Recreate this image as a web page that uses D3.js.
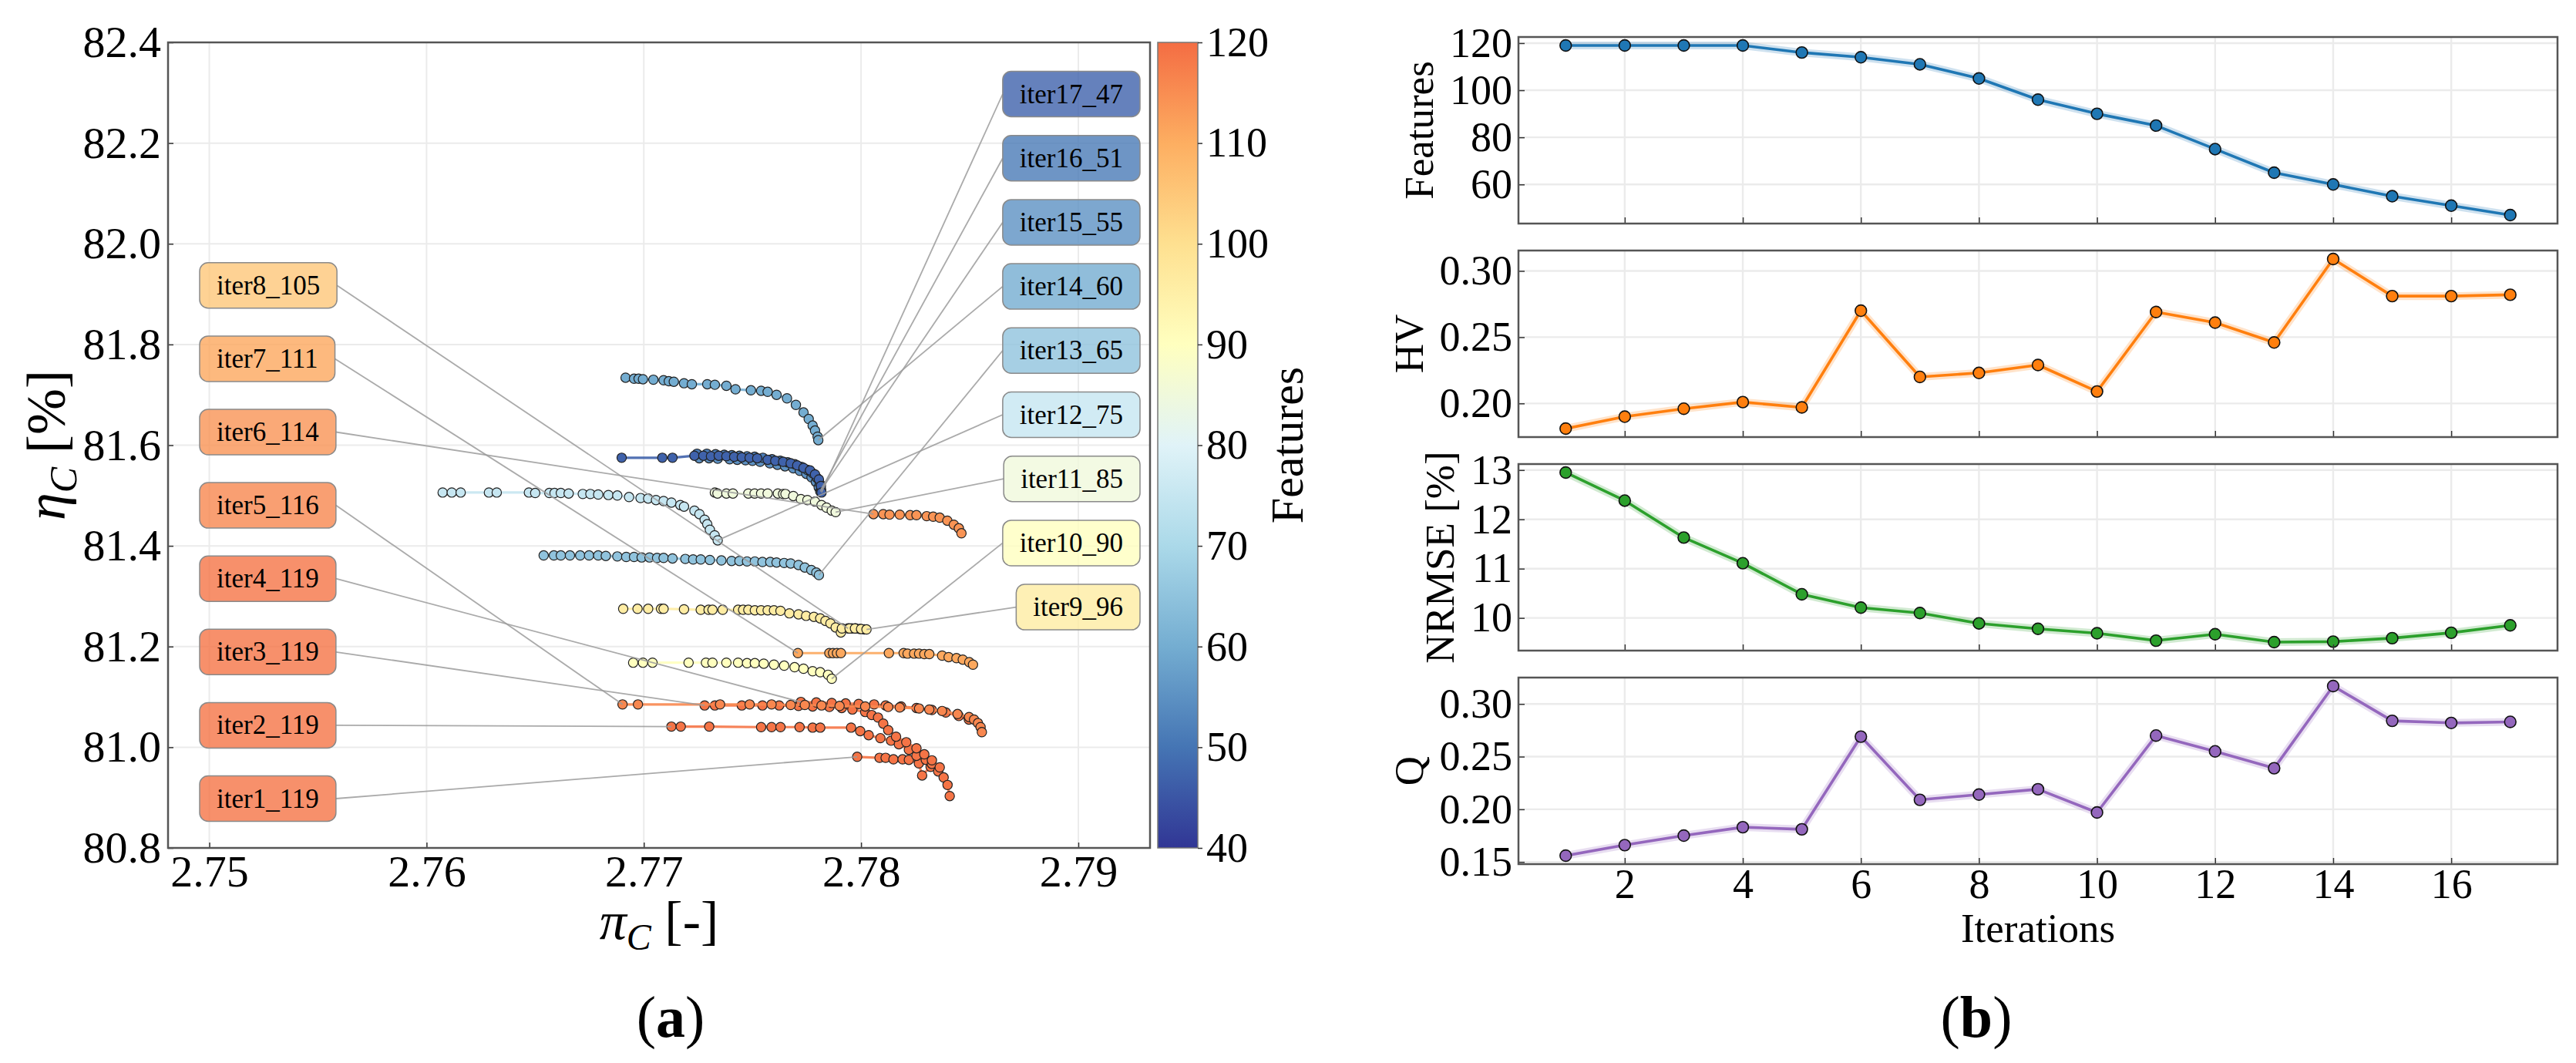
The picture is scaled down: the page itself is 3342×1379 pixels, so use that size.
<!DOCTYPE html>
<html>
<head>
<meta charset="utf-8">
<script src="https://cdn.jsdelivr.net/npm/d3@7"></script>
<style>
  body { margin: 0; background: #fff; }
  svg { display: block; font-family: 'Liberation Serif', 'Times New Roman', serif; }
</style>
</head>
<body>
<svg id="fig" width="3342" height="1379"></svg>
<script>
// ---- data: panel (b) ----
const iterations = [1, 2, 3, 4, 5, 6, 7, 8, 9, 10, 11, 12, 13, 14, 15, 16, 17];
const features = [119, 119, 119, 119, 116, 114, 111, 105, 96, 90, 85, 75, 65, 60, 55, 51, 47];
const hv = [0.181, 0.190, 0.196, 0.201, 0.197, 0.270, 0.220, 0.223, 0.229, 0.209, 0.269, 0.261, 0.246, 0.309, 0.281, 0.281, 0.282];
const nrmse = [12.95, 12.38, 11.63, 11.11, 10.48, 10.21, 10.10, 9.89, 9.78, 9.69, 9.54, 9.67, 9.51, 9.52, 9.59, 9.70, 9.85];
const qScore = [0.156, 0.166, 0.175, 0.183, 0.181, 0.269, 0.209, 0.214, 0.219, 0.197, 0.270, 0.255, 0.239, 0.317, 0.284, 0.282, 0.283];

// ---- data: panel (a), pareto fronts [pi_C, eta_C] ----
const front1 = [[2.77982,80.981],[2.78085,80.979],[2.78113,80.979],[2.78149,80.976],[2.78191,80.976],[2.7822,80.975],[2.78266,80.968],[2.78281,80.944],[2.7832,80.961],[2.78355,80.952],[2.7838,80.940],[2.78398,80.925],[2.78408,80.903]];
const front2 = [[2.77127,81.041],[2.7717,81.041],[2.77301,81.041],[2.7754,81.040],[2.77588,81.040],[2.77629,81.040],[2.77717,81.040],[2.77777,81.039],[2.77812,81.039],[2.77954,81.039],[2.77996,81.032],[2.78035,81.024],[2.78089,81.018],[2.78138,81.013],[2.78174,81.006],[2.7822,80.995],[2.78255,80.983],[2.78298,80.975],[2.78326,80.967]];
const front3 = [[2.7728,81.083],[2.77327,81.083],[2.77451,81.083],[2.77546,81.083],[2.77623,81.083],[2.77712,81.082],[2.77777,81.081],[2.77854,81.080],[2.77911,81.078],[2.7796,81.075],[2.78019,81.070],[2.78049,81.064],[2.78078,81.059],[2.78102,81.047],[2.78125,81.034],[2.78161,81.021],[2.78208,81.010],[2.78255,80.998],[2.78291,80.986],[2.78326,80.974],[2.78362,80.960]];
const front4 = [[2.77723,81.090],[2.77794,81.089],[2.77865,81.088],[2.77929,81.087],[2.77989,81.086],[2.7806,81.085],[2.78113,81.083],[2.78184,81.081],[2.78255,81.078],[2.78326,81.074],[2.7839,81.069],[2.7845,81.062],[2.78496,81.055]];
const front5 = [[2.76902,81.085],[2.76973,81.085],[2.77351,81.085],[2.77487,81.085],[2.77588,81.085],[2.77676,81.084],[2.77741,81.084],[2.77818,81.083],[2.77901,81.082],[2.78019,81.081],[2.78125,81.080],[2.78178,81.079],[2.78267,81.077],[2.78314,81.075],[2.78373,81.072],[2.78444,81.066],[2.78497,81.060],[2.7852,81.055],[2.78538,81.048],[2.7855,81.040],[2.78556,81.030]];
const front6 = [[2.78057,81.463],[2.78102,81.463],[2.78131,81.462],[2.78178,81.462],[2.78226,81.461],[2.78255,81.461],[2.78302,81.459],[2.78332,81.458],[2.78362,81.456],[2.78397,81.450],[2.78427,81.442],[2.7845,81.435],[2.78462,81.425]];
const front7 = [[2.77709,81.187],[2.77854,81.187],[2.77871,81.187],[2.77889,81.187],[2.77907,81.187],[2.78128,81.187],[2.78196,81.187],[2.78214,81.186],[2.78244,81.186],[2.78267,81.186],[2.78291,81.185],[2.78314,81.185],[2.78373,81.182],[2.78403,81.179],[2.78439,81.177],[2.78468,81.174],[2.78498,81.169],[2.78515,81.164]];
const front8 = [[2.7794,81.236],[2.77958,81.236],[2.77975,81.236],[2.77995,81.235],[2.78015,81.234]];
const front9 = [[2.76905,81.275],[2.76971,81.275],[2.7702,81.275],[2.77079,81.275],[2.77091,81.275],[2.77185,81.274],[2.77262,81.273],[2.77298,81.273],[2.77316,81.273],[2.77363,81.273],[2.77434,81.273],[2.77457,81.273],[2.77481,81.273],[2.77511,81.272],[2.7754,81.272],[2.7757,81.272],[2.77599,81.272],[2.77629,81.271],[2.7767,81.266],[2.77712,81.264],[2.77747,81.261],[2.77783,81.259],[2.77812,81.256],[2.77836,81.251],[2.77859,81.246],[2.77883,81.238],[2.77907,81.228],[2.77912,81.236],[2.77947,81.236],[2.77972,81.236],[2.78,81.235],[2.78025,81.234]];
const front10 = [[2.76951,81.168],[2.76996,81.168],[2.7704,81.168],[2.77206,81.168],[2.77286,81.168],[2.77316,81.168],[2.7738,81.168],[2.77434,81.168],[2.77475,81.167],[2.77511,81.167],[2.77552,81.166],[2.77599,81.164],[2.77646,81.162],[2.77694,81.159],[2.77735,81.156],[2.77777,81.151],[2.77812,81.149],[2.77848,81.144],[2.77865,81.136]];
const front11 = [[2.77327,81.506],[2.77339,81.504],[2.7738,81.504],[2.7741,81.504],[2.77481,81.504],[2.7751,81.504],[2.7754,81.504],[2.7757,81.504],[2.77617,81.504],[2.77641,81.503],[2.77652,81.503],[2.77688,81.499],[2.77723,81.493],[2.77753,81.491],[2.77788,81.488],[2.77818,81.481],[2.77841,81.476],[2.77865,81.470],[2.77883,81.467]];
const front12 = [[2.76074,81.506],[2.76116,81.506],[2.76157,81.506],[2.76287,81.506],[2.76323,81.506],[2.76471,81.506],[2.765,81.505],[2.76565,81.505],[2.76589,81.505],[2.76618,81.505],[2.76654,81.504],[2.76719,81.503],[2.76754,81.503],[2.7679,81.502],[2.76837,81.501],[2.76878,81.500],[2.76932,81.497],[2.76985,81.495],[2.7702,81.494],[2.77056,81.491],[2.77091,81.489],[2.77127,81.486],[2.77168,81.481],[2.77185,81.478],[2.77233,81.470],[2.77256,81.463],[2.7728,81.452],[2.77292,81.443],[2.77304,81.432],[2.77326,81.421],[2.7734,81.411]];
const front13 = [[2.76539,81.381],[2.76586,81.381],[2.76618,81.381],[2.7666,81.381],[2.76707,81.381],[2.76748,81.381],[2.7679,81.381],[2.76825,81.380],[2.76878,81.379],[2.76919,81.378],[2.76955,81.378],[2.7699,81.377],[2.77026,81.377],[2.77061,81.376],[2.77091,81.376],[2.77132,81.375],[2.77191,81.374],[2.77227,81.373],[2.77262,81.373],[2.77304,81.372],[2.77357,81.371],[2.77404,81.370],[2.7744,81.370],[2.77475,81.369],[2.77511,81.369],[2.77546,81.368],[2.77582,81.368],[2.77611,81.367],[2.77646,81.366],[2.77676,81.365],[2.77712,81.362],[2.77741,81.357],[2.77771,81.352],[2.77794,81.347],[2.77806,81.342]];
const front14 = [[2.76916,81.734],[2.76955,81.732],[2.76976,81.732],[2.76996,81.731],[2.77044,81.730],[2.77091,81.729],[2.77115,81.727],[2.77138,81.726],[2.77185,81.723],[2.77221,81.721],[2.77292,81.721],[2.77327,81.720],[2.7738,81.718],[2.77422,81.711],[2.77493,81.709],[2.7754,81.708],[2.7757,81.706],[2.77611,81.700],[2.77659,81.693],[2.777,81.680],[2.77735,81.665],[2.77759,81.652],[2.77777,81.639],[2.77788,81.629],[2.778,81.617],[2.77803,81.610]];
const front15 = [[2.77255,81.574],[2.773,81.574],[2.7734,81.573],[2.77395,81.572],[2.7743,81.571],[2.77468,81.570],[2.775,81.569],[2.77535,81.567],[2.7758,81.564],[2.77615,81.561],[2.7765,81.558],[2.77688,81.554],[2.77718,81.549],[2.77748,81.543],[2.77772,81.536],[2.77792,81.527],[2.77805,81.516],[2.77812,81.508]];
const front16 = [[2.77245,81.583],[2.7729,81.583],[2.7733,81.582],[2.7737,81.581],[2.77405,81.580],[2.7744,81.579],[2.77475,81.578],[2.7751,81.577],[2.77548,81.575],[2.7759,81.572],[2.77628,81.569],[2.77662,81.566],[2.77695,81.562],[2.77725,81.557],[2.77752,81.551],[2.77778,81.544],[2.77797,81.535],[2.7781,81.524],[2.77816,81.512]];
const front17 = [[2.76898,81.575],[2.77085,81.575],[2.77132,81.575],[2.77233,81.579],[2.77274,81.579],[2.77309,81.578],[2.77345,81.579],[2.7738,81.578],[2.77416,81.577],[2.77451,81.576],[2.77487,81.575],[2.77522,81.574],[2.7757,81.571],[2.77605,81.569],[2.77641,81.567],[2.77676,81.564],[2.77706,81.560],[2.77735,81.555],[2.77765,81.550],[2.77788,81.542],[2.77806,81.532],[2.77815,81.519],[2.77818,81.506]];
const fronts = [front1, front2, front3, front4, front5, front6, front7, front8, front9,
                front10, front11, front12, front13, front14, front15, front16, front17];

// ---- tick labels ----
const piTicks = [2.75, 2.76, 2.77, 2.78, 2.79];
const etaTicks = [80.8, 81.0, 81.2, 81.4, 81.6, 81.8, 82.0, 82.2, 82.4];
const cbTicks = [40, 50, 60, 70, 80, 90, 100, 110, 120];
const iterTicks = [2, 4, 6, 8, 10, 12, 14, 16];
const featTicks = [60, 80, 100, 120];
const hvTicks = [0.20, 0.25, 0.30];
const nrmseTicks = [10, 11, 12, 13];
const qTicks = [0.15, 0.20, 0.25, 0.30];

// RdYlBu reversed, spread over 40..140 features (colorbar shows 40..120)
const rdylbu = ['#313695', '#4575b4', '#74add1', '#abd9e9', '#e0f3f8', '#ffffbf',
                '#fee090', '#fdae61', '#f46d43', '#d73027', '#a50026'];
const colorScale = d3.scaleLinear()
  .domain([40, 50, 60, 70, 80, 90, 100, 110, 120, 130, 140])
  .range(rdylbu);

const svg = d3.select('#fig');
const gridColor = '#ebebeb';
const frameColor = '#555';

function styleAxis(g, size) {
  g.select('.domain').remove();
  g.selectAll('.tick line').attr('stroke', '#333').attr('stroke-width', 1.5);
  g.selectAll('.tick text')
    .attr('fill', '#000')
    .style('font-family', "'Liberation Serif', serif")
    .style('font-size', size + 'px');
}

// ================= panel (a) =================
const A = { left: 218, right: 1492, top: 55, bottom: 1100 };
const xA = d3.scaleLinear().domain([2.7481, 2.7933]).range([A.left, A.right]);
const yA = d3.scaleLinear().domain([80.8, 82.4]).range([A.bottom, A.top]);

const gA = svg.append('g');

// grid
gA.append('g').selectAll('line').data(piTicks).enter().append('line')
  .attr('x1', d => xA(d)).attr('x2', d => xA(d))
  .attr('y1', A.top).attr('y2', A.bottom)
  .attr('stroke', gridColor).attr('stroke-width', 2);
gA.append('g').selectAll('line').data(etaTicks).enter().append('line')
  .attr('x1', A.left).attr('x2', A.right)
  .attr('y1', d => yA(d)).attr('y2', d => yA(d))
  .attr('stroke', gridColor).attr('stroke-width', 2);

// fronts
const line = d3.line().x(d => xA(d[0])).y(d => yA(d[1]));
const frontLayer = gA.append('g');
fronts.forEach((pts, k) => {
  const c = colorScale(features[k]);
  frontLayer.append('path')
    .datum(pts)
    .attr('d', line)
    .attr('fill', 'none')
    .attr('stroke', c)
    .attr('stroke-width', 3.2)
    .attr('opacity', 0.9);
  frontLayer.append('g').selectAll('circle').data(pts).enter().append('circle')
    .attr('cx', d => xA(d[0]))
    .attr('cy', d => yA(d[1]))
    .attr('r', 6.1)
    .attr('fill', c)
    .attr('stroke', '#222')
    .attr('stroke-width', 1.2);
});

// annotation boxes + leader lines
const leaderLayer = gA.append('g');
const boxLayer = gA.append('g');
fronts.forEach((pts, k) => {
  const iter = iterations[k];
  const onLeft = iter <= 8;
  const c = colorScale(features[k]);
  const g = boxLayer.append('g');
  const t = g.append('text')
    .text(`iter${iter}_${features[k]}`)
    .attr('font-size', 35)
    .attr('dominant-baseline', 'central')
    .attr('fill', '#000');
  const w = t.node().getComputedTextLength() + 44;
  const h = 59;
  const cy = onLeft ? 1036 - k * 95.1 : 122 + (16 - k) * 83.2;
  const x0 = onLeft ? 259 : 1479 - w;
  t.attr('x', x0 + 22).attr('y', cy);
  g.insert('rect', 'text')
    .attr('x', x0).attr('y', cy - h / 2)
    .attr('width', w).attr('height', h)
    .attr('rx', 11)
    .attr('fill', c).attr('fill-opacity', 0.8)
    .attr('stroke', '#8a8a8a').attr('stroke-width', 1.5);

  const target = onLeft ? pts[0] : pts[pts.length - 1];
  leaderLayer.append('line')
    .attr('x1', onLeft ? x0 + w : x0).attr('y1', cy)
    .attr('x2', xA(target[0])).attr('y2', yA(target[1]))
    .attr('stroke', '#9c9c9c')
    .attr('stroke-width', 1.8)
    .attr('opacity', 0.85);
});

// axes
gA.append('g')
  .attr('transform', `translate(0,${A.bottom})`)
  .call(d3.axisBottom(xA).tickValues(piTicks).tickFormat(d3.format('.2f'))
    .tickSizeInner(-7).tickSizeOuter(0).tickPadding(9))
  .call(g => styleAxis(g, 58));
gA.append('g')
  .attr('transform', `translate(${A.left},0)`)
  .call(d3.axisLeft(yA).tickValues(etaTicks).tickFormat(d3.format('.1f'))
    .tickSizeInner(-7).tickSizeOuter(0).tickPadding(9))
  .call(g => styleAxis(g, 58));

gA.append('rect')
  .attr('x', A.left).attr('y', A.top)
  .attr('width', A.right - A.left).attr('height', A.bottom - A.top)
  .attr('fill', 'none').attr('stroke', frameColor).attr('stroke-width', 2.5);

// axis labels
const xLab = gA.append('text')
  .attr('x', (A.left + A.right) / 2).attr('y', 1218)
  .attr('text-anchor', 'middle').attr('font-size', 70);
xLab.append('tspan').attr('font-style', 'italic').text('π');
xLab.append('tspan').attr('font-style', 'italic').attr('font-size', 48).attr('dy', 14).text('C');
xLab.append('tspan').attr('dy', -14).text(' [-]');

const yLab = gA.append('text')
  .attr('transform', `translate(84,${(A.top + A.bottom) / 2}) rotate(-90)`)
  .attr('text-anchor', 'middle').attr('font-size', 72);
yLab.append('tspan').attr('font-style', 'italic').text('η');
yLab.append('tspan').attr('font-style', 'italic').attr('font-size', 50).attr('dy', 15).text('C');
yLab.append('tspan').attr('dy', -15).text(' [%]');

// colorbar
const CB = { left: 1502, right: 1554 };
const cbScale = d3.scaleLinear().domain([40, 120]).range([A.bottom, A.top]);
const grad = svg.append('defs').append('linearGradient')
  .attr('id', 'cbGrad').attr('x1', 0).attr('x2', 0).attr('y1', 1).attr('y2', 0);
grad.selectAll('stop').data(cbTicks).enter().append('stop')
  .attr('offset', d => (d - 40) / 80)
  .attr('stop-color', d => colorScale(d));
svg.append('rect')
  .attr('x', CB.left).attr('y', A.top)
  .attr('width', CB.right - CB.left).attr('height', A.bottom - A.top)
  .attr('fill', 'url(#cbGrad)')
  .attr('stroke', '#777').attr('stroke-width', 1.5);
svg.append('g')
  .attr('transform', `translate(${CB.right},0)`)
  .call(d3.axisRight(cbScale).tickValues(cbTicks).tickSizeInner(6).tickSizeOuter(0).tickPadding(5))
  .call(g => styleAxis(g, 54));
svg.append('text')
  .attr('transform', `translate(1690,${(A.top + A.bottom) / 2}) rotate(-90)`)
  .attr('text-anchor', 'middle').attr('font-size', 60)
  .text('Features');

// ================= panel (b) =================
const B = { left: 1970, right: 3318, top: 48, height: 242, step: 277 };
const xB = d3.scaleLinear().domain([0.2, 17.8]).range([B.left, B.right]);
const subplots = [
  { values: features, color: '#1f77b4', label: 'Features', ticks: featTicks, fmt: d3.format('d') },
  { values: hv, color: '#ff7f0e', label: 'HV', ticks: hvTicks, fmt: d3.format('.2f') },
  { values: nrmse, color: '#2ca02c', label: 'NRMSE [%]', ticks: nrmseTicks, fmt: d3.format('d') },
  { values: qScore, color: '#9467bd', label: 'Q', ticks: qTicks, fmt: d3.format('.2f') },
];

subplots.forEach((sp, i) => {
  const top = B.top + i * B.step;
  const bottom = top + B.height;
  const ext = d3.extent(sp.values);
  const pad = (ext[1] - ext[0]) * 0.05;
  const y = d3.scaleLinear().domain([ext[0] - pad, ext[1] + pad]).range([bottom, top]);
  const g = svg.append('g');

  g.append('g').selectAll('line').data(iterTicks).enter().append('line')
    .attr('x1', d => xB(d)).attr('x2', d => xB(d))
    .attr('y1', top).attr('y2', bottom)
    .attr('stroke', gridColor).attr('stroke-width', 2.4);
  g.append('g').selectAll('line').data(sp.ticks).enter().append('line')
    .attr('x1', B.left).attr('x2', B.right)
    .attr('y1', d => y(d)).attr('y2', d => y(d))
    .attr('stroke', gridColor).attr('stroke-width', 2.4);

  const l = d3.line().x((d, j) => xB(iterations[j])).y(d => y(d));
  g.append('path').datum(sp.values).attr('d', l)
    .attr('fill', 'none').attr('stroke', sp.color)
    .attr('stroke-width', 10).attr('stroke-opacity', 0.22)
    .attr('stroke-linejoin', 'round');
  g.append('path').datum(sp.values).attr('d', l)
    .attr('fill', 'none').attr('stroke', sp.color)
    .attr('stroke-width', 3.6).attr('stroke-linejoin', 'round');
  g.append('g').selectAll('circle').data(sp.values).enter().append('circle')
    .attr('cx', (d, j) => xB(iterations[j]))
    .attr('cy', d => y(d))
    .attr('r', 7.4)
    .attr('fill', sp.color)
    .attr('stroke', '#111').attr('stroke-width', 1.6);

  const xAxis = g.append('g')
    .attr('transform', `translate(0,${bottom})`)
    .call(d3.axisBottom(xB).tickValues(iterTicks).tickFormat(d3.format('d'))
      .tickSizeInner(-8).tickSizeOuter(0).tickPadding(6))
    .call(a => styleAxis(a, 54));
  if (i < subplots.length - 1) xAxis.selectAll('.tick text').remove();

  const yAxis = g.append('g')
    .attr('transform', `translate(${B.left},0)`)
    .call(d3.axisLeft(y).tickValues(sp.ticks).tickFormat(sp.fmt)
      .tickSizeInner(-8).tickSizeOuter(0).tickPadding(8))
    .call(a => styleAxis(a, 54));

  g.append('rect')
    .attr('x', B.left).attr('y', top)
    .attr('width', B.right - B.left).attr('height', B.height)
    .attr('fill', 'none').attr('stroke', frameColor).attr('stroke-width', 2.5);

  let minX = 0;
  yAxis.selectAll('.tick text').each(function () {
    minX = Math.min(minX, this.getBBox().x - 8);
  });
  g.append('text')
    .attr('transform', `translate(${B.left + minX - 14},${(top + bottom) / 2}) rotate(-90)`)
    .attr('text-anchor', 'middle').attr('font-size', 53)
    .text(sp.label);
});

svg.append('text')
  .attr('x', (B.left + B.right) / 2).attr('y', 1222)
  .attr('text-anchor', 'middle').attr('font-size', 53)
  .text('Iterations');

// sub-figure captions
[['a', 870], ['b', 2564]].forEach(([letter, cx]) => {
  const t = svg.append('text')
    .attr('x', cx).attr('y', 1345)
    .attr('text-anchor', 'middle').attr('font-size', 76);
  t.append('tspan').text('(');
  t.append('tspan').attr('font-weight', 'bold').text(letter);
  t.append('tspan').text(')');
});
</script>
</body>
</html>
